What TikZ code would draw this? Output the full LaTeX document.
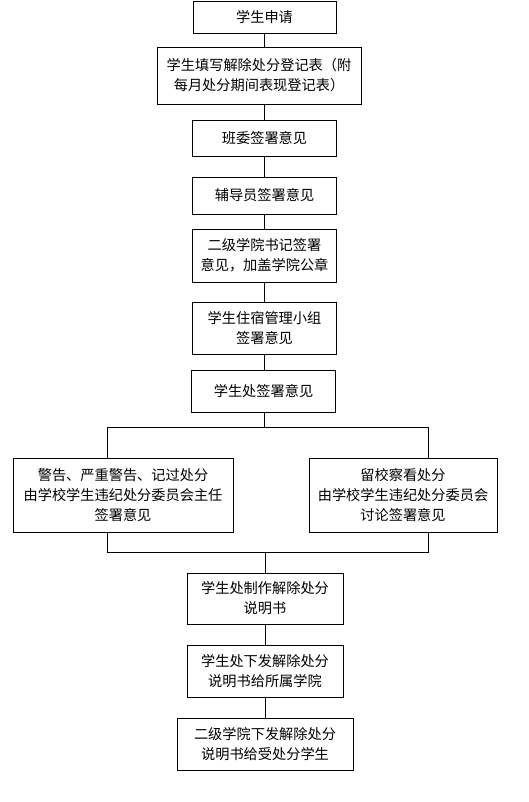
\documentclass[tikz,border=0pt]{standalone}
\usepackage{fontspec}
\setmainfont{Noto Sans CJK SC}
\begin{document}
\begin{tikzpicture}[x=1pt,y=-1pt,
  box/.style={draw,line width=0.9pt,rectangle,inner sep=0pt,align=center,
    font=\fontsize{14.2pt}{20pt}\selectfont},
  link/.style={line width=0.9pt}]
\useasboundingbox (0,0) rectangle (528,802);
\node[box,minimum width=143pt,minimum height=32pt] (n1) at (264.5,17) {学生申请};
\node[box,minimum width=204pt,minimum height=57pt] (n2) at (259,75.5) {学生填写解除处分登记表（附\\每月处分期间表现登记表）};
\node[box,minimum width=144pt,minimum height=36pt] (n3) at (264.5,138) {班委签署意见};
\node[box,minimum width=144pt,minimum height=37pt] (n4) at (264.5,195.5) {辅导员签署意见};
\node[box,minimum width=144pt,minimum height=53pt] (n5) at (264.5,255.5) {二级学院书记签署\\意见，加盖学院公章};
\node[box,minimum width=144pt,minimum height=52pt] (n6) at (264.5,328) {学生住宿管理小组\\签署意见};
\node[box,minimum width=144pt,minimum height=42pt] (n7) at (263.5,391) {学生处签署意见};
\node[box,minimum width=220pt,minimum height=74pt] (nl) at (123,495) {警告、严重警告、记过处分\\由学校学生违纪处分委员会主任\\签署意见};
\node[box,minimum width=188pt,minimum height=74pt] (nr) at (403,495) {留校察看处分\\由学校学生违纪处分委员会\\讨论签署意见};
\node[box,minimum width=156pt,minimum height=51pt] (n8) at (265,598.5) {学生处制作解除处分\\说明书};
\node[box,minimum width=156pt,minimum height=52pt] (n9) at (265,671) {学生处下发解除处分\\说明书给所属学院};
\node[box,minimum width=176pt,minimum height=52pt] (n10) at (265,744) {二级学院下发解除处分\\说明书给受处分学生};
\coordinate (bl) at (107,427);
\coordinate (br) at (428,427);
\coordinate (bc) at (264.5,427);
\coordinate (ml) at (107,552);
\coordinate (mr) at (428,552);
\coordinate (mc) at (265,552);
\draw[link] (n1.south) -- (n1.south |- n2.north);
\draw[link] (n2.south -| n3.north) -- (n3.north);
\draw[link] (n3.south) -- (n4.north);
\draw[link] (n4.south) -- (n5.north);
\draw[link] (n5.south) -- (n6.north);
\draw[link] (n6.south -| bc) -- (n7.north -| bc);
\draw[link] (n7.south -| bc) -- (bc);
\draw[link] (bl |- nl.north) -- (bl) -- (br) -- (br |- nr.north);
\draw[link] (ml |- nl.south) -- (ml) -- (mr) -- (mr |- nr.south);
\draw[link] (mc) -- (n8.north);
\draw[link] (n8.south) -- (n9.north);
\draw[link] (n9.south) -- (n10.north);
\end{tikzpicture}
\end{document}
